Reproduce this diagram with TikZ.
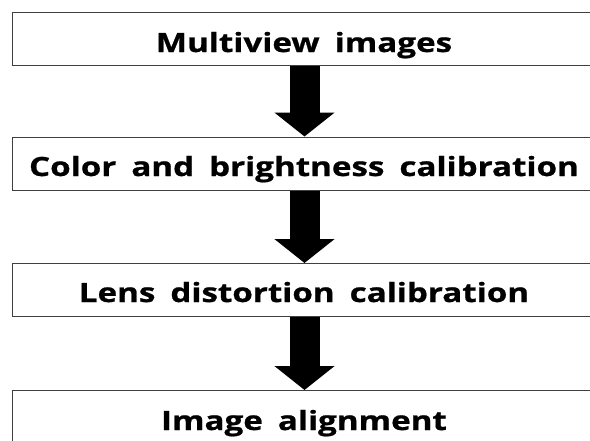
\documentclass[tikz,border=0pt]{standalone}
\usepackage{fontspec}
\setmainfont{Open Sans}
\newfontfamily\stagefont{Open Sans}[FakeStretch=1.25, WordSpace=1.75, BoldFeatures={FakeBold=0.8}]
\usetikzlibrary{arrows.meta}
\tikzset{
  stagebox/.style={draw=black!75, line width=1pt, fill=white, minimum width=584pt, minimum height=53pt, inner sep=0pt, anchor=north west},
  stagetext/.style={anchor=base, font=\stagefont\fontsize{26.5pt}{30pt}\selectfont\bfseries, inner sep=0pt},
  flowarrow/.style={line width=30pt, black, -{Triangle[length=24pt, width=59pt]}}
}
\begin{document}
\begin{tikzpicture}[x=1pt, y=-1pt]
\useasboundingbox (0,0) rectangle (590,440);
\clip (0,0) rectangle (590,440);
\fill[white] (0,0) rectangle (590,440);
\node[stagebox] (b1) at (12,12) {};
\node[stagebox] (b2) at (12,136.5) {};
\node[stagebox] (b3) at (12,263) {};
\node[stagebox] (b4) at (12,390) {};
\node[stagetext] (t1) at (304,52) {Multiview images};
\node[stagetext] (t2) at (304,176) {Color and brightness calibration};
\node[stagetext] (t3) at (304,302) {Lens distortion calibration};
\node[stagetext] (t4) at (304,430) {Image alignment};
\draw[flowarrow] (b1.south) -- (b2.north);
\draw[flowarrow] (b2.south) -- (b3.north);
\draw[flowarrow] (b3.south) -- (b4.north);
\end{tikzpicture}
\end{document}
